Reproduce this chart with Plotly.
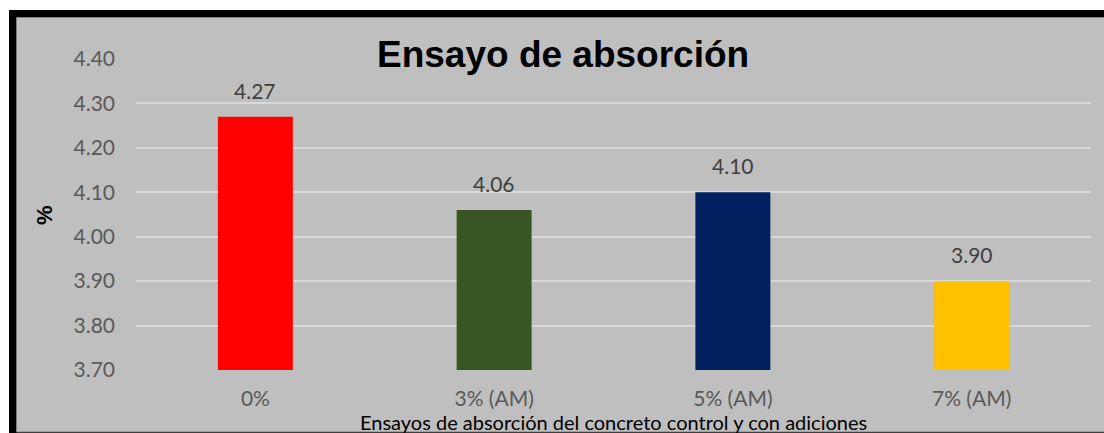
import plotly.graph_objects as go

categories = ["0%", "3% (AM)", "5% (AM)", "7% (AM)"]
values = [4.27, 4.06, 4.10, 3.90]
colors = ["#FF0000", "#375623", "#002060", "#FFC000"]
tick_vals = [3.70, 3.80, 3.90, 4.00, 4.10, 4.20, 4.30, 4.40]
tick_text = ["3.70", "3.80", "3.90", "4.00", "4.10", "4.20", "4.30", "4.40"]

W, H = 1104, 433
L, R, T, B = 136, 1091, 59, 370

def px(x):
    return (x - L) / (R - L)

def py(y):
    return (B - y) / (B - T)

fig = go.Figure()
fig.add_trace(go.Bar(
    x=categories, y=values,
    marker=dict(color=colors, line=dict(width=0)),
    width=0.314,
))

label_annotations = [
    dict(text=f"{v:.2f}", x=c, y=v, xref="x", yref="y", xanchor="center", yanchor="bottom",
         yshift=12, showarrow=False, font=dict(family="Lato", size=21, color="#404040"))
    for c, v in zip(categories, values)
]

shapes = [
    dict(type="rect", xref="paper", yref="paper", x0=px(9), x1=px(1120), y0=py(10), y1=py(440),
         fillcolor="#000000", line=dict(width=0), layer="below"),
    dict(type="rect", xref="paper", yref="paper", x0=px(16.5), x1=px(1120), y0=py(17.5), y1=py(432),
         fillcolor="#BFBFBF", line=dict(color="#7F7F7F", width=1), layer="below"),
]

fig.update_layout(
    width=W, height=H,
    margin=dict(l=L, r=W - R, t=T, b=H - B, pad=0),
    paper_bgcolor="#FFFFFF", plot_bgcolor="rgba(0,0,0,0)",
    shapes=shapes, showlegend=False,
    font=dict(family="Lato", color="#595959"),
    xaxis=dict(showgrid=False, showline=False, zeroline=False, ticks="",
               tickfont=dict(family="Lato", size=21, color="#595959"), ticklabelstandoff=14),
    yaxis=dict(range=[3.70, 4.40], tickvals=tick_vals, ticktext=tick_text,
               showgrid=True, gridcolor="#D9D9D9", gridwidth=1.5, zeroline=False, showline=False,
               ticks="", tickfont=dict(family="Lato", size=21, color="#595959"), ticklabelstandoff=20),
    annotations=label_annotations + [
        dict(text="<b>Ensayo de absorción</b>", xref="paper", yref="paper", x=px(563), y=py(55),
             xanchor="center", yanchor="middle", showarrow=False,
             font=dict(family="Liberation Sans", size=37, color="#000000")),
        dict(text="<b>%</b>", xref="paper", yref="paper", x=px(44), y=py(215), textangle=-90,
             xanchor="center", yanchor="middle", showarrow=False,
             font=dict(family="Liberation Sans", size=22, color="#000000")),
        dict(text="Ensayos de absorción del concreto control y con adiciones", xref="paper", yref="paper",
             x=px(613), y=py(422), xanchor="center", yanchor="middle", showarrow=False,
             font=dict(family="Lato", size=20, color="#000000")),
    ],
)

fig.write_html("out.html")
